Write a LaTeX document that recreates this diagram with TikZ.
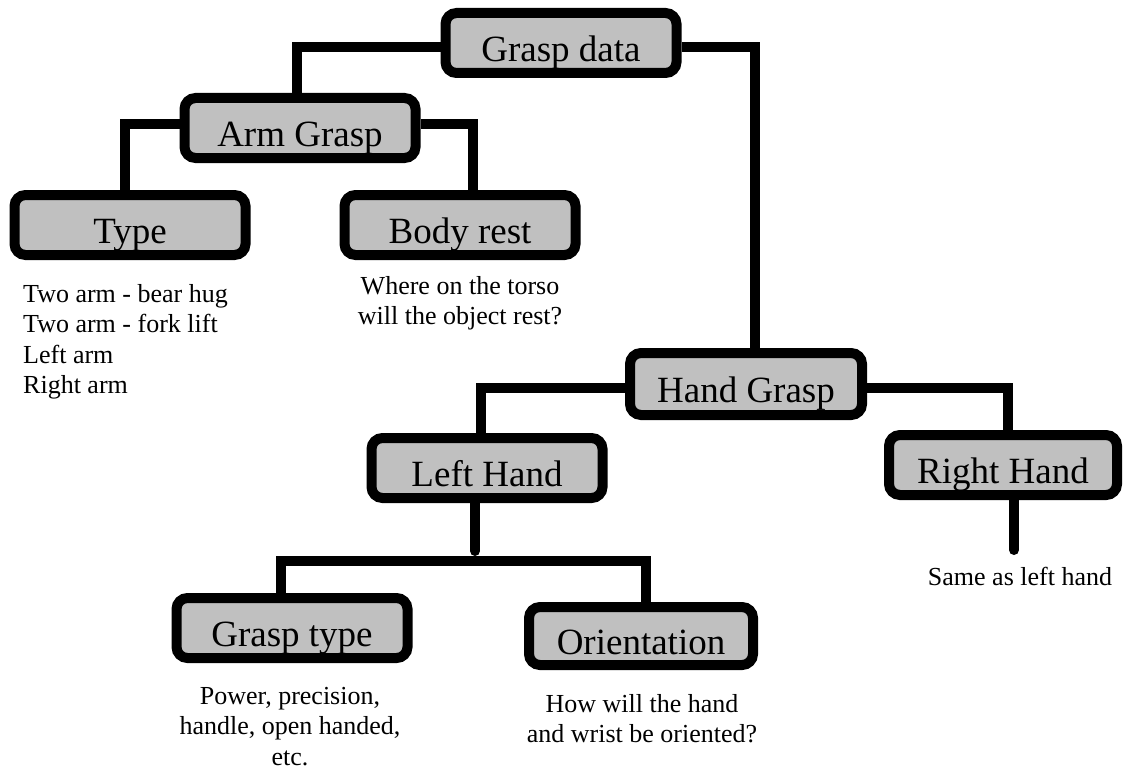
\documentclass[tikz,border=0pt]{standalone}
\usepackage{fontspec}
\setmainfont{Liberation Serif}
\definecolor{boxgray}{RGB}{192,192,192}
\begin{document}
\begin{tikzpicture}[x=1pt,y=-1pt,
  gbox/.style={draw=black, line width=10pt, fill=boxgray, rounded corners=11pt,
    minimum width=231pt, minimum height=60pt, inner sep=0pt,
    font=\fontsize{37}{44}\selectfont, text height=37pt, text depth=0pt},
  conn/.style={draw=black, line width=10pt},
  stub/.style={draw=black, line width=10pt, line cap=round},
  desc/.style={font=\fontsize{26}{30.5}\selectfont, inner sep=0pt}]
\useasboundingbox (0,0) rectangle (1124,773);
% boxes
\node[gbox] (gd) at (561,43) {Grasp data};
\node[gbox] (ag) at (300,128) {Arm Grasp};
\node[gbox] (ty) at (130,225) {Type};
\node[gbox] (br) at (460,225) {Body rest};
\node[gbox, minimum width=232pt, minimum height=62pt] (hg) at (746,384) {Hand Grasp};
\node[gbox] (lh) at (487,468) {Left Hand};
\node[gbox, minimum width=228pt] (rh) at (1003,465) {Right Hand};
\node[gbox] (gt) at (292,628) {Grasp type};
\node[gbox, minimum width=224pt, minimum height=58pt] (ori) at (641,636) {Orientation};
% connectors
\draw[conn] ([yshift=-4pt]gd.west) -| ([xshift=-3pt]ag.north);
\draw[conn] ([yshift=-4pt]gd.east) -| ([xshift=9pt]hg.north);
\draw[conn] ([yshift=4pt]ag.west) -| ([xshift=-5pt]ty.north);
\draw[conn] ([yshift=4pt]ag.east) -| ([xshift=13pt]br.north);
\draw[conn] ([yshift=-4pt]hg.west) -| ([xshift=-6pt]lh.north);
\draw[conn] ([yshift=-4pt]hg.east) -| ([xshift=5pt]rh.north);
\path ([xshift=-12pt]lh.south) ++(0,48) coordinate (lhend) ++(0,10) coordinate (bar);
\draw[stub] ([xshift=-12pt]lh.south) -- (lhend);
\draw[conn] ([xshift=-11pt]gt.north) |- (bar) -| ([xshift=5pt]ori.north);
\path ([xshift=11pt]rh.south) ++(0,50) coordinate (rhend);
\draw[stub] ([xshift=11pt]rh.south) -- (rhend);
% descriptions
\node[desc, anchor=north west, align=left] (tyd) at (23,284)
  {Two arm - bear hug\\Two arm - fork lift\\Left arm\\Right arm};
\node[desc, anchor=north, align=center] (brd) at (460,276)
  {Where on the torso\\will the object rest?};
\node[desc, anchor=base] (rhd) at (1020,585) {Same as left hand};
\node[desc, anchor=north, align=center] (gtd) at (290,687)
  {Power, precision,\\handle, open handed,\\etc.};
\node[desc, anchor=north, align=center] (orid) at (642,694)
  {How will the hand\\and wrist be oriented?};
\end{tikzpicture}
\end{document}
